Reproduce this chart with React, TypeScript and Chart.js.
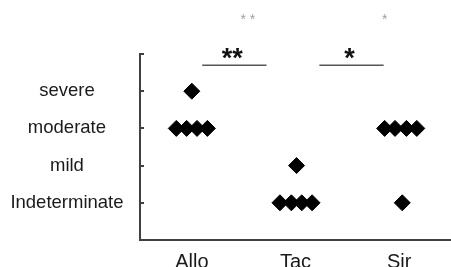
import React, { useEffect, useRef } from 'react';
import { Chart, registerables } from 'chart.js';

Chart.register(...registerables);

const groups = ['Allo', 'Tac', 'Sir'];
const severityLabels = ['Indeterminate', 'mild', 'moderate', 'severe'];

// x positions (group index + small horizontal spread) and severity scores
const alloX = [1.0, 0.85, 0.95, 1.05, 1.15];
const alloY = [4, 3, 3, 3, 3];
const tacX = [2.01, 1.85, 1.96, 2.06, 2.16];
const tacY = [2, 1, 1, 1, 1];
const sirX = [2.86, 2.96, 3.07, 3.17, 3.03];
const sirY = [3, 3, 3, 3, 1];

const sigFrom = [1.1, 2.23];
const sigTo = [1.72, 2.85];
const sigMarks = ['**', '*'];
const sigLevel = 4.7;
const faintX = [1.54, 2.86];

const FONT = "'Liberation Sans', Arial, sans-serif";

export default function App() {
  const ref = useRef<HTMLCanvasElement>(null);
  useEffect(() => {
    document.body.style.margin = '0';
    const pts = [
      ...alloX.map((x, i) => ({ x, y: alloY[i] })),
      ...tacX.map((x, i) => ({ x, y: tacY[i] })),
      ...sirX.map((x, i) => ({ x, y: sirY[i] })),
    ];
    const sigDatasets = sigFrom.map((f, i) => ({
      data: [
        { x: f, y: sigLevel },
        { x: sigTo[i], y: sigLevel },
      ],
      showLine: true,
      pointRadius: 0,
      borderColor: '#555555',
      borderWidth: 1.5,
    }));
    const sigPlugin = {
      id: 'sig',
      afterDatasetsDraw(chart: any) {
        const { ctx, scales } = chart;
        ctx.save();
        ctx.fillStyle = '#111';
        ctx.textAlign = 'center';
        ctx.textBaseline = 'alphabetic';
        ctx.font = `bold 27px ${FONT}`;
        sigMarks.forEach((m, i) => {
          const x = (scales.x.getPixelForValue(sigFrom[i]) + scales.x.getPixelForValue(sigTo[i])) / 2;
          const y = scales.y.getPixelForValue(sigLevel);
          ctx.fillText(m, x - 2, y + 2);
        });
        // faint remnants at top
        ctx.fillStyle = '#a0a0a0';
        ctx.font = `14px ${FONT}`;
        sigMarks.forEach((m, i) => {
          const x = scales.x.getPixelForValue(faintX[i]);
          ctx.fillText(m.split('').join(' '), x, 24);
        });
        ctx.restore();
      },
    };
    const chart = new Chart(ref.current!, {
      type: 'scatter',
      data: {
        datasets: [
          {
            data: pts,
            pointStyle: 'rectRot',
            pointRadius: 8,
            pointBackgroundColor: '#000',
            pointBorderColor: '#000',
            pointBorderWidth: 1,
          },
          ...sigDatasets,
        ] as any,
      },
      options: {
        animation: false,
        responsive: true,
        maintainAspectRatio: false,
        layout: { autoPadding: false, padding: { top: 54, right: 0, left: 0, bottom: 0 } },
        plugins: { legend: { display: false }, tooltip: { enabled: false } },
        scales: {
          x: {
            type: 'linear',
            min: 0.5,
            max: 3.5,
            afterBuildTicks: (s: any) => {
              s.ticks = groups.map((_, i) => ({ value: i + 1 }));
            },
            afterFit: (s: any) => {
              s.height = 27;
              s.paddingLeft = 0;
              s.paddingRight = 0;
            },
            ticks: {
              callback: (v: any) => groups[Math.round(v) - 1] ?? '',
              font: { family: FONT, size: 20 },
              color: '#1a1a1a',
              padding: 2,
              autoSkip: false,
              maxRotation: 0,
            },
            grid: { display: false },
            border: { display: true, color: '#404040', width: 2 },
          },
          y: {
            min: 0,
            max: 5,
            afterBuildTicks: (s: any) => {
              s.ticks = [0, 1, 2, 3, 4, 5].map((v) => ({ value: v }));
            },
            afterFit: (s: any) => {
              s.width = 140;
              s.paddingTop = 0;
              s.paddingBottom = 0;
            },
            ticks: {
              callback: (v: any) => severityLabels[Math.round(v) - 1] ?? '',
              font: { family: FONT, size: 18.5 },
              color: '#1a1a1a',
              crossAlign: 'center',
              padding: 20.5,
              autoSkip: false,
            },
            grid: {
              drawOnChartArea: false,
              drawTicks: true,
              tickLength: -4,
              color: '#404040',
              lineWidth: 2,
            },
            border: { display: true, color: '#404040', width: 2 },
          },
        },
      },
      plugins: [sigPlugin],
    } as any);
    return () => chart.destroy();
  }, []);
  return (
    <div style={{ width: 451, height: 267, position: 'relative' }}>
      <canvas ref={ref} />
    </div>
  );
}
